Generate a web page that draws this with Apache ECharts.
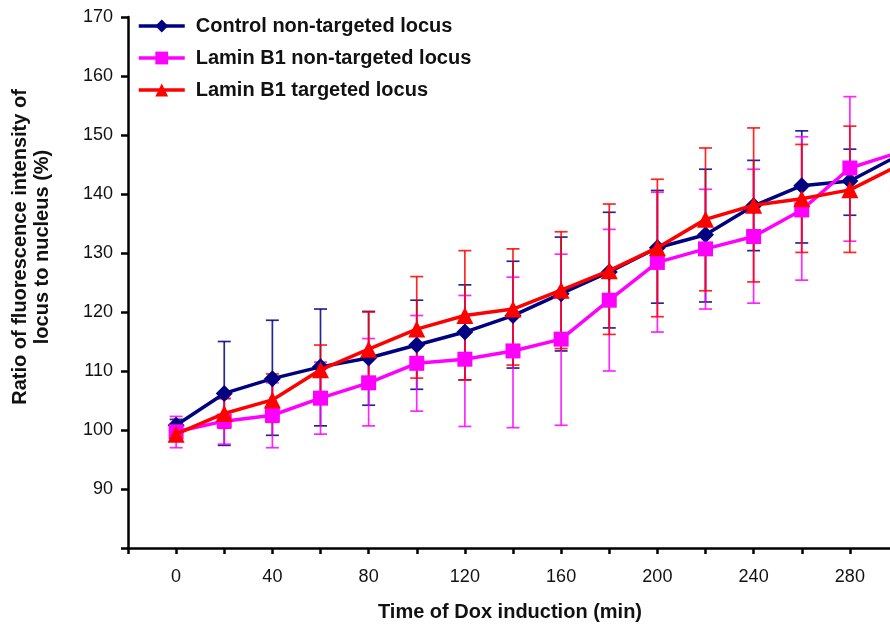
<!DOCTYPE html>
<html>
<head>
<meta charset="utf-8">
<script src="https://cdn.jsdelivr.net/npm/echarts@6/dist/echarts.min.js"></script>
<style>html,body{margin:0;padding:0;background:#fff}#c{width:890px;height:626px}</style>
</head>
<body>
<div id="c"></div>
<script>
var times = [0, 20, 40, 60, 80, 100, 120, 140, 160, 180, 200, 220, 240, 260, 280, 300];

var ctrlMean = [100.8, 106.2, 108.7, 110.7, 112.2, 114.4, 116.6, 119.4, 123.1, 126.8, 130.9, 133.1, 138.0, 141.4, 142.2, 146.5];
var ctrlHigh = [101.8, 115.0, 118.6, 120.5, 120.1, 122.0, 124.6, 128.6, 132.7, 136.9, 140.6, 144.2, 145.7, 150.7, 147.6, 152.0];
var ctrlLow  = [100.0, 97.4, 99.1, 100.7, 104.2, 106.9, 108.5, 110.5, 113.4, 117.3, 121.5, 121.7, 130.4, 131.7, 136.4, 141.0];

var lamMean = [99.7, 101.5, 102.5, 105.4, 108.0, 111.3, 112.0, 113.4, 115.4, 122.0, 128.4, 130.7, 132.8, 137.3, 144.4, 147.0];
var lamHigh = [102.3, 105.4, 108.0, 111.5, 115.5, 119.4, 122.8, 125.9, 129.8, 134.0, 140.3, 140.8, 144.2, 149.7, 156.5, 159.0];
var lamLow  = [97.0, 97.6, 97.0, 99.3, 100.7, 103.2, 100.6, 100.4, 100.8, 110.0, 116.6, 120.5, 121.5, 125.4, 132.0, 135.0];

var tgtMean = [99.3, 102.8, 105.1, 110.2, 113.7, 117.1, 119.4, 120.5, 123.7, 127.0, 130.9, 135.7, 138.1, 139.2, 140.7, 144.8];
var tgtHigh = [100.3, 105.3, 109.5, 114.4, 120.0, 126.0, 130.4, 130.7, 133.6, 138.3, 142.5, 147.8, 151.2, 148.4, 151.5, 155.0];
var tgtLow  = [98.3, 100.3, 101.3, 106.0, 107.4, 108.8, 108.5, 111.0, 113.8, 116.2, 119.2, 123.6, 125.1, 130.1, 130.1, 134.6];

var names = ['Control non-targeted locus', 'Lamin B1 non-targeted locus', 'Lamin B1 targeted locus'];
var colors = ['#000080', '#ff00ff', '#ff0000'];

function pairs(m) { return times.map(function (t, i) { return [t, m[i]]; }); }
function bars(lo, hi) { return times.map(function (t, i) { return [t, lo[i], hi[i]]; }); }

function errSeries(lo, hi, color, z) {
  return {
    type: 'custom',
    z: z,
    silent: true,
    data: bars(lo, hi),
    encode: { x: 0, y: [1, 2] },
    renderItem: function (params, api) {
      var x = api.value(0);
      var top = api.coord([x, api.value(2)]);
      var bot = api.coord([x, api.value(1)]);
      var w = 6.5;
      var st = { stroke: color, lineWidth: 1.7, opacity: 0.85 };
      return {
        type: 'group',
        children: [
          { type: 'line', shape: { x1: top[0], y1: top[1], x2: bot[0], y2: bot[1] }, style: st },
          { type: 'line', shape: { x1: top[0] - w, y1: top[1], x2: top[0] + w, y2: top[1] }, style: st },
          { type: 'line', shape: { x1: bot[0] - w, y1: bot[1], x2: bot[0] + w, y2: bot[1] }, style: st }
        ]
      };
    }
  };
}

function lineSeries(name, mean, color, symbol, size, z) {
  return {
    name: name,
    type: 'line',
    z: z,
    data: pairs(mean),
    symbol: symbol,
    symbolSize: size,
    showAllSymbol: true,
    lineStyle: { color: color, width: 3.5 },
    itemStyle: { color: color },
    emphasis: { disabled: true }
  };
}

var chart = echarts.init(document.getElementById('c'), null, { renderer: 'canvas' });
chart.setOption({
  animation: false,
  backgroundColor: '#ffffff',
  grid: { left: 128, top: 17, right: -8, bottom: 78, containLabel: false, outerBoundsMode: 'none' },
  legend: {
    data: names,
    orient: 'vertical',
    left: 137,
    top: 16,
    padding: 0,
    itemWidth: 46,
    itemHeight: 16,
    itemGap: 12,
    lineStyle: { width: 3.5 },
    textStyle: { fontFamily: 'Liberation Sans', fontWeight: 'bold', fontSize: 20, color: '#111', padding: [0, 0, 0, 6] }
  },
  xAxis: {
    type: 'value',
    min: -20,
    max: 300,
    interval: 20,
    splitLine: { show: false },
    axisLine: { show: true, onZero: false, lineStyle: { color: '#000', width: 2.5 } },
    axisTick: { show: true, inside: false, length: 6, lineStyle: { color: '#000', width: 2.5 } },
    axisLabel: {
      margin: 20,
      fontFamily: 'Liberation Sans',
      fontSize: 18,
      color: '#111',
      formatter: function (v) { return (v >= 0 && v % 40 === 0) ? String(v) : ''; }
    }
  },
  yAxis: {
    type: 'value',
    min: 80,
    max: 170,
    interval: 10,
    splitLine: { show: false },
    axisLine: { show: true, onZero: false, lineStyle: { color: '#000', width: 2.5 } },
    axisTick: { show: true, inside: false, length: 7, lineStyle: { color: '#000', width: 2.5 } },
    axisLabel: {
      margin: 15,
      fontFamily: 'Liberation Sans',
      fontSize: 18,
      color: '#111',
      formatter: function (v) { return v === 80 ? '' : String(v); }
    }
  },
  graphic: [
    {
      type: 'text',
      x: 31,
      y: 247,
      rotation: Math.PI / 2,
      style: {
        text: 'Ratio of fluorescence intensity of\nlocus to nucleus (%)',
        font: 'bold 20px "Liberation Sans"',
        fill: '#111',
        textAlign: 'center',
        textVerticalAlign: 'middle',
        lineHeight: 22
      }
    },
    {
      type: 'text',
      x: 510,
      y: 612,
      style: {
        text: 'Time of Dox induction (min)',
        font: 'bold 20px "Liberation Sans"',
        fill: '#111',
        textAlign: 'center',
        textVerticalAlign: 'middle'
      }
    }
  ],
  series: [
    errSeries(ctrlLow, ctrlHigh, colors[0], 1),
    errSeries(lamLow, lamHigh, colors[1], 2),
    errSeries(tgtLow, tgtHigh, colors[2], 3),
    lineSeries(names[0], ctrlMean, colors[0], 'diamond', 17, 4),
    lineSeries(names[1], lamMean, colors[1], 'rect', 15, 5),
    lineSeries(names[2], tgtMean, colors[2], 'triangle', 17, 6)
  ]
});
</script>
</body>
</html>
